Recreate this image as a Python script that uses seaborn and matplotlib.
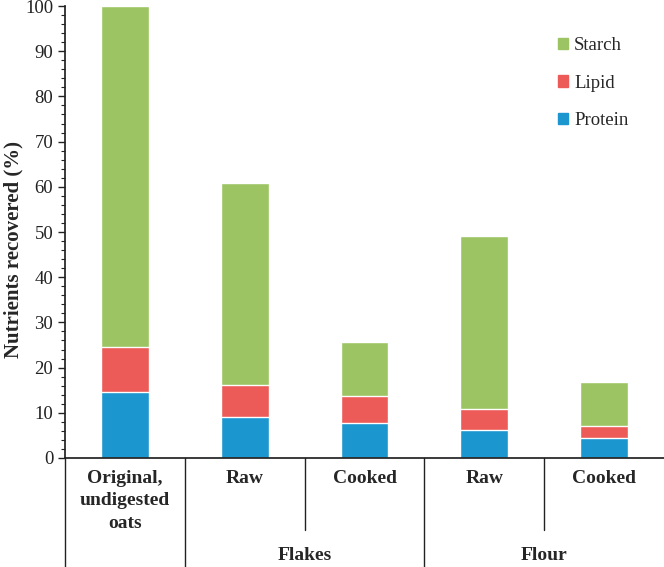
import numpy as np
import pandas as pd
import matplotlib
matplotlib.use("Agg")
import matplotlib.pyplot as plt
import matplotlib.transforms as mtransforms
from matplotlib.patches import Patch
import seaborn as sns

# values (%)
samples = ["Original", "Flakes raw", "Flakes cooked", "Flour raw", "Flour cooked"]
protein = [14.6, 9.1, 7.8, 6.2, 4.4]
lipid = [10.0, 7.0, 5.9, 4.6, 2.7]
starch = [75.4, 44.7, 12.0, 38.4, 9.8]

sub_labels = ["Original,\nundigested\noats", "Raw", "Cooked", "Raw", "Cooked"]
groups = ["Flakes", "Flour"]

c_starch = "#9cc463"
c_lipid = "#ec5b58"
c_protein = "#1c96cf"

sns.set_theme(style="white")
plt.rcParams["font.family"] = ["Liberation Serif", "DejaVu Serif"]

df = pd.DataFrame({"sample": samples, "protein": protein,
                   "lipid": lipid, "starch": starch})
df["pl"] = df["protein"] + df["lipid"]
df["total"] = df["pl"] + df["starch"]

fig = plt.figure(figsize=(6.64, 5.67), dpi=100)
ax = fig.add_axes([65/664, 109/567, 1 - 65/664, 452/567])

# stacked bars drawn as overlapping cumulative bars
sns.barplot(data=df, x="sample", y="total", order=samples, color=c_starch,
            width=0.4, saturation=1, ax=ax)
sns.barplot(data=df, x="sample", y="pl", order=samples, color=c_lipid,
            width=0.4, saturation=1, ax=ax)
sns.barplot(data=df, x="sample", y="protein", order=samples, color=c_protein,
            width=0.4, saturation=1, ax=ax)

ax.set_xlim(-0.5, 4.5)
ax.set_ylim(0, 100)
ax.set_yticks(np.arange(0, 101, 10))
ax.set_yticks(np.arange(0, 101, 2), minor=True)
ax.tick_params(axis="y", which="major", direction="out", length=5, width=1,
               labelsize=13.5, left=True, colors="#222222")
ax.tick_params(axis="y", which="minor", direction="out", length=3, width=0.8,
               left=True, color="#222222")
ax.set_xticks([])
ax.set_xlabel("")
ax.set_ylabel("Nutrients recovered (%)", fontsize=15, fontweight="bold")
ax.yaxis.set_label_coords(-0.07, 0.462)

for s in ["top", "right"]:
    ax.spines[s].set_visible(False)
ax.spines["left"].set_color("#222222")
ax.spines["bottom"].set_color("#222222")

# category table below the axis
trans = mtransforms.blended_transform_factory(ax.transData, ax.transAxes)
low = -109/452
short = -72/452
ax.plot([-0.5, -0.5], [0, low], transform=trans, color="#222222", lw=1, clip_on=False)
ax.plot([0.5, 0.5], [0, low], transform=trans, color="#222222", lw=1, clip_on=False)
ax.plot([2.5, 2.5], [0, low], transform=trans, color="#222222", lw=1, clip_on=False)
ax.plot([1.5, 1.5], [0, short], transform=trans, color="#222222", lw=1, clip_on=False)
ax.plot([3.5, 3.5], [0, short], transform=trans, color="#222222", lw=1, clip_on=False)

for i, lab in enumerate(sub_labels):
    ax.text(i, -0.026, lab, transform=trans, ha="center", va="top",
            fontsize=14, fontweight="bold", linespacing=1.42)
ax.text(1.5, -0.215, groups[0], transform=trans, ha="center", va="center",
        fontsize=14, fontweight="bold")
ax.text(3.5, -0.215, groups[1], transform=trans, ha="center", va="center",
        fontsize=14, fontweight="bold")

handles = [Patch(color=c_starch, label="Starch"),
           Patch(color=c_lipid, label="Lipid"),
           Patch(color=c_protein, label="Protein")]
ax.legend(handles=handles, loc="upper left", bbox_to_anchor=(0.795, 0.968),
          frameon=False, fontsize=13.5, handlelength=0.55, handleheight=0.55,
          handletextpad=0.3, labelspacing=1.08)

fig.savefig("out.png", dpi=100)
